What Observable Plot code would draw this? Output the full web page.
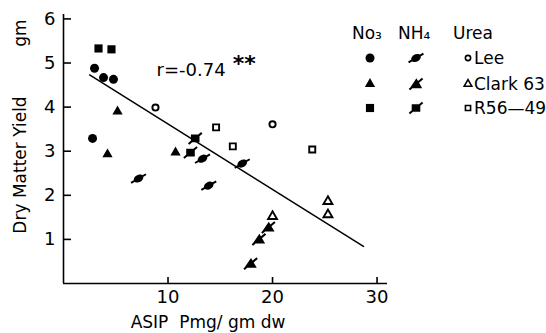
<!DOCTYPE html>
<html>
<head>
<meta charset="utf-8">
<script src="https://cdn.jsdelivr.net/npm/d3@7"></script>
<script src="https://cdn.jsdelivr.net/npm/@observablehq/plot@0.6"></script>
<style>
  html, body { margin: 0; padding: 0; background: white; }
  #chart { width: 546px; height: 333px; }
</style>
</head>
<body>
<div id="chart"></div>
<script>
// ---- data ----
const cultivars = ["Lee", "Clark 63", "R56—49"];
const sources = ["No₃", "NH₄", "Urea"];

// [cultivar, ASIP (mg/gm dw), Dry matter yield (gm)]
const no3Points = [
  ["Lee", 2.97, 4.88], ["Lee", 3.83, 4.67], ["Lee", 4.78, 4.63], ["Lee", 2.78, 3.29],
  ["Clark 63", 5.17, 3.90], ["Clark 63", 4.21, 2.93], ["Clark 63", 10.72, 2.97],
  ["R56—49", 3.35, 5.33], ["R56—49", 4.59, 5.31]
];
const nh4Points = [
  ["Lee", 7.18, 2.38], ["Lee", 13.3, 2.83], ["Lee", 17.1, 2.72], ["Lee", 13.9, 2.22],
  ["Clark 63", 19.6, 1.27], ["Clark 63", 18.7, 1.0], ["Clark 63", 17.9, 0.45],
  ["R56—49", 12.6, 3.29], ["R56—49", 12.15, 2.97]
];
const ureaPoints = [
  ["Lee", 8.8, 3.99], ["Lee", 20.0, 3.61],
  ["Clark 63", 25.3, 1.86], ["Clark 63", 25.3, 1.56], ["Clark 63", 20.0, 1.52],
  ["R56—49", 14.6, 3.54], ["R56—49", 16.2, 3.11], ["R56—49", 23.8, 3.04]
];
const fitLine = [[2.5, 4.73], [28.7, 0.84]];
const rLabel = "r=-0.74";
const rStars = "**";
const rPos = [13.6, 4.84];
const xTicks = [10, 20, 30];
const yTicks = [1, 2, 3, 4, 5, 6];
const xLabel = "ASIP  Pmg/ gm dw";
const yLabel = "Dry Matter Yield";
const yUnit = "gm";

// ---- custom symbols ----
function poly(ctx, pts) {
  let a = 0;
  for (let i = 0; i < pts.length; i++) {
    const p = pts[i], q = pts[(i + 1) % pts.length];
    a += p[0] * q[1] - q[0] * p[1];
  }
  if (a < 0) pts = pts.slice().reverse();
  ctx.moveTo(pts[0][0], pts[0][1]);
  for (let i = 1; i < pts.length; i++) ctx.lineTo(pts[i][0], pts[i][1]);
  ctx.closePath();
}
function slashPts(L, angDeg, w) {
  const t = angDeg * Math.PI / 180, c = Math.cos(t), s = -Math.sin(t);
  const nx = -s * w, ny = c * w;
  return [[-L * c - nx, -L * s - ny], [L * c - nx, L * s - ny], [L * c + nx, L * s + ny], [-L * c + nx, -L * s + ny]];
}
function slashed(kind) {
  return {
    draw(ctx, size) {
      const r = Math.sqrt(size / Math.PI);
      let ang, L;
      if (kind === "circle") {
        ang = 30; L = 2.0 * r;
        const t = ang * Math.PI / 180, pts = [];
        for (let i = 0; i < 20; i++) {
          const u = 2 * Math.PI * i / 20;
          const ex = 1.2 * r * Math.cos(u), ey = 0.85 * r * Math.sin(u);
          pts.push([ex * Math.cos(t) + ey * Math.sin(t), -ex * Math.sin(t) + ey * Math.cos(t)]);
        }
        poly(ctx, pts);
      } else if (kind === "triangle") {
        ang = 40; L = 2.0 * r;
        const h = 2.4 * r;
        poly(ctx, [[0.1 * r, -h * 0.55], [h * 0.6, h * 0.4], [-h * 0.6, h * 0.4]]);
      } else {
        ang = 40; L = 2.0 * r;
        const q = 1.0 * r;
        poly(ctx, [[-q, -q * 0.9], [q, -q * 0.9], [q, q * 0.9], [-q, q * 0.9]]);
      }
      poly(ctx, slashPts(L, ang, 1.0));
    }
  };
}
const symbolFor = {
  "No₃":  {"Lee": "circle", "Clark 63": "triangle", "R56—49": "square"},
  "NH₄":  {"Lee": slashed("circle"), "Clark 63": slashed("triangle"), "R56—49": slashed("square")},
  "Urea": {"Lee": "circle", "Clark 63": "triangle", "R56—49": "square"}
};
const sizeFor = {
  "No₃":  {"Lee": 4.5, "Clark 63": 3.8, "R56—49": 4.6},
  "NH₄":  {"Lee": 4.3, "Clark 63": 4.3, "R56—49": 4.3},
  "Urea": {"Lee": 3.1, "Clark 63": 3.3, "R56—49": 3.4}
};
const dataFor = {"No₃": no3Points, "NH₄": nh4Points, "Urea": ureaPoints};

const font = "'DejaVu Sans', sans-serif";

const dotMarks = [];
for (const src of sources) {
  for (const cv of cultivars) {
    const pts = dataFor[src].filter(d => d[0] === cv);
    const open = src === "Urea";
    dotMarks.push(Plot.dot(pts, {
      x: d => d[1], y: d => d[2],
      symbol: symbolFor[src][cv], r: sizeFor[src][cv],
      fill: open ? "none" : "black",
      stroke: open ? "black" : "none",
      strokeWidth: open ? 1.9 : 0
    }));
  }
}

const chart = Plot.plot({
  width: 546, height: 333,
  marginTop: 14, marginBottom: 50, marginLeft: 63, marginRight: 159,
  x: {domain: [0, 31]},
  y: {domain: [0, 6.1]},
  style: {fontFamily: font, fontSize: "18px", background: "white", color: "black"},
  marks: [
    Plot.ruleX([0], {strokeWidth: 1.6}),
    Plot.ruleY([0], {strokeWidth: 1.6}),
    Plot.axisX({ticks: xTicks, tickSize: -6, tickPadding: 13, strokeWidth: 1.6, label: null, tickFormat: d => d}),
    Plot.axisY({ticks: yTicks, tickSize: -8, tickPadding: 16, strokeWidth: 1.6, label: null, tickFormat: d => d}),
    Plot.line(fitLine, {x: d => d[0], y: d => d[1], stroke: "black", strokeWidth: 1.5}),
    ...dotMarks,
    Plot.text([rLabel], {x: rPos[0], y: rPos[1], text: d => d, fontSize: 18, textAnchor: "end", dx: 20}),
    Plot.text([rStars], {x: rPos[0], y: rPos[1], text: d => d, fontSize: 22, fontWeight: "bold", textAnchor: "start", dx: 27, dy: -6})
  ]
});
document.getElementById("chart").appendChild(chart);

const svg = d3.select(chart);

// ---- axis titles ----
const titles = svg.append("g").attr("font-family", font).attr("fill", "black").attr("text-anchor", "middle");
titles.append("text").attr("x", 208).attr("y", 322).attr("dy", "0.35em").attr("font-size", 17).text(xLabel);
titles.append("text").attr("transform", "translate(20,165) rotate(-90)").attr("dy", "0.35em").attr("font-size", 17).text(yLabel);
titles.append("text").attr("transform", "translate(20,33) rotate(-90)").attr("dy", "0.35em").attr("font-size", 17).text(yUnit);

// ---- legend (top right) ----
const lg = svg.append("g").attr("font-family", font).attr("font-size", 17).attr("fill", "black").attr("text-anchor", "start");
const colX = [370, 416, 468];
const headX = [352, 398, 453];
const rowY = [58, 84, 108];
sources.forEach((s, i) => {
  lg.append("text").attr("x", headX[i]).attr("y", 33).attr("dy", "0.35em").text(s);
});
cultivars.forEach((cv, j) => {
  sources.forEach((s, i) => {
    const sym = symbolFor[s][cv];
    const type = typeof sym === "string" ? {circle: d3.symbolCircle, triangle: d3.symbolTriangle, square: d3.symbolSquare}[sym] : sym;
    const r = sizeFor[s][cv] * (s === "Urea" ? 0.85 : 1);
    const open = s === "Urea";
    lg.append("path")
      .attr("transform", `translate(${colX[i]},${rowY[j]})`)
      .attr("d", d3.symbol(type, Math.PI * r * r)())
      .attr("fill", open ? "none" : "black")
      .attr("stroke", open ? "black" : "none")
      .attr("stroke-width", open ? 1.6 : 0);
  });
  lg.append("text").attr("x", colX[2] + 6).attr("y", rowY[j]).attr("dy", "0.35em").text(cv);
});
</script>
</body>
</html>
